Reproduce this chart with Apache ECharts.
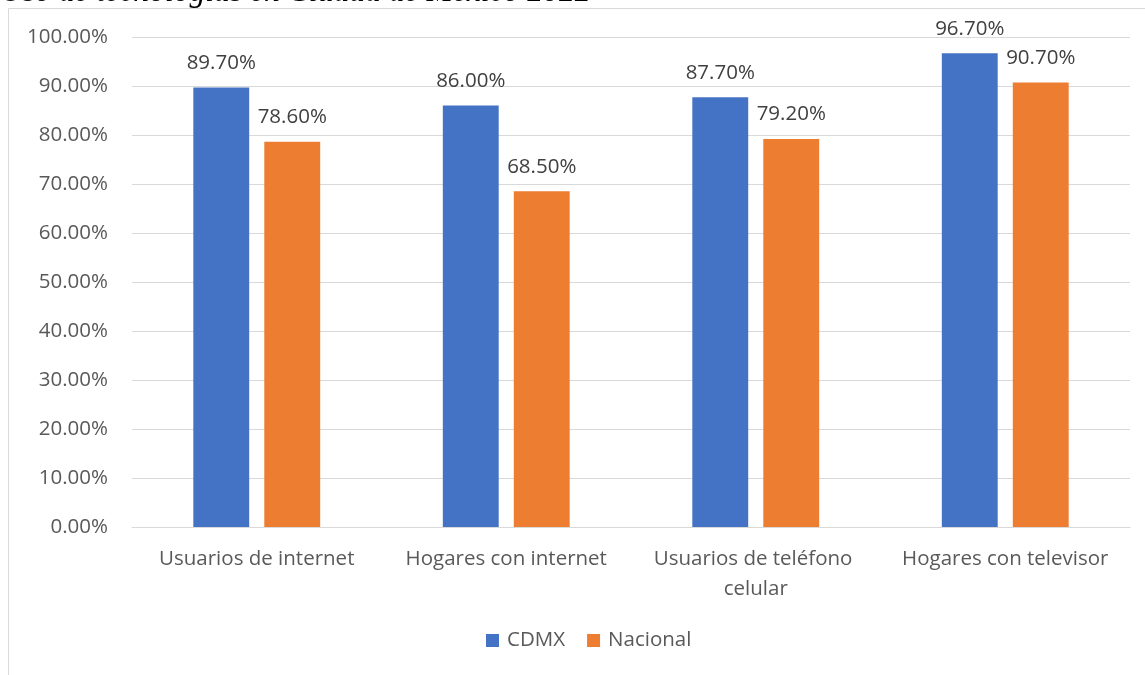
<!DOCTYPE html>
<html>
<head>
<meta charset="utf-8">
<script src="https://cdn.jsdelivr.net/npm/echarts@6/dist/echarts.min.js"></script>
<style>html,body{margin:0;padding:0;background:#fff;}#c{width:1145px;height:675px;}</style>
</head>
<body>
<div id="c"></div>
<script>
const titleText = 'Uso de tecnologías en Ciudad de México 2022';
const categories = ['Usuarios de internet', 'Hogares con internet', 'Usuarios de teléfono celular', 'Hogares con televisor'];
const cdmx = [89.7, 86.0, 87.7, 96.7];
const nacional = [78.6, 68.5, 79.2, 90.7];
const yTicks = [0, 10, 20, 30, 40, 50, 60, 70, 80, 90, 100];

const FONT = '"Open Sans"';
const FS = 20.5;
const chart = echarts.init(document.getElementById('c'));
const labelStyle = {
  show: true, position: 'top', distance: 14,
  fontFamily: FONT, fontSize: FS, color: '#404040',
  formatter: p => p.value.toFixed(2) + '%'
};
chart.setOption({
  animation: false,
  graphic: [
    { type: 'rect', shape: { x: 8.5, y: 8.5, width: 1300, height: 900 },
      style: { fill: 'none', stroke: '#d9d9d9', lineWidth: 1 }, silent: true },
    { type: 'text', x: 0, y: 8.5,
      style: { text: titleText, font: 'italic 31.6px "Liberation Serif"', fill: '#000', textVerticalAlign: 'bottom' } }
  ],
  legend: {
    left: 481, top: 625, itemWidth: 13, itemHeight: 13, itemGap: 22,
    icon: 'rect',
    textStyle: { fontFamily: FONT, fontSize: FS, color: '#595959', padding: [0, 0, 0, 3] },
    data: ['CDMX', 'Nacional']
  },
  grid: { left: 132, right: 15, top: 37, bottom: 148, containLabel: false },
  xAxis: {
    type: 'category', data: categories,
    axisLine: { lineStyle: { color: '#d9d9d9', width: 1 } },
    axisTick: { show: false },
    axisLabel: {
      interval: 0, fontFamily: FONT, fontSize: FS, color: '#595959',
      margin: 17, width: 235, overflow: 'break', lineHeight: 30
    }
  },
  yAxis: {
    type: 'value', min: yTicks[0], max: yTicks[yTicks.length - 1], interval: 10,
    axisLine: { show: false }, axisTick: { show: false },
    splitLine: { lineStyle: { color: '#d9d9d9', width: 1 } },
    axisLabel: {
      fontFamily: FONT, fontSize: FS, color: '#595959', margin: 24,
      formatter: v => v.toFixed(2) + '%'
    }
  },
  series: [
    { name: 'CDMX', type: 'bar', data: cdmx, barWidth: '22.4%', barGap: '27%',
      itemStyle: { color: '#4472C4' }, label: labelStyle },
    { name: 'Nacional', type: 'bar', data: nacional, barWidth: '22.4%', barGap: '27%',
      itemStyle: { color: '#ED7D31' }, label: labelStyle }
  ]
});
</script>
</body>
</html>
